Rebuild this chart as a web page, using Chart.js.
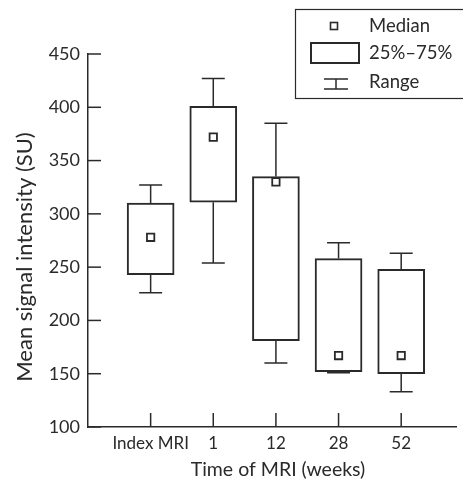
<!DOCTYPE html>
<html>
<head>
<meta charset="utf-8">
<script src="https://cdn.jsdelivr.net/npm/chart.js@4/dist/chart.umd.min.js"></script>
<style>
  body { margin: 0; background: #fff; }
</style>
</head>
<body>
<canvas id="myChart" width="463" height="480"></canvas>
<script>
"use strict";
// categories and box plot values
const categories = ["Index MRI", "1", "12", "28", "52"];
const minValues = [226, 254, 160, 151, 133];
const q1Values = [243, 311, 181, 152, 150];
const medianValues = [278, 372, 330, 167, 167];
const q3Values = [310, 401, 335, 258, 248];
const maxValues = [327, 427, 385, 273, 263];
const yTicks = [100, 150, 200, 250, 300, 350, 400, 450];

const ink = "#2a2a2a";
const font = { family: "Lato", size: 17 };

// whiskers: from box edge out to the cap
const whiskers = {
  id: "whiskers",
  beforeDatasetsDraw(chart) {
    const { ctx, scales: { x, y } } = chart;
    ctx.save();
    ctx.strokeStyle = ink;
    ctx.lineWidth = 1.5;
    categories.forEach((c, i) => {
      const px = x.getPixelForValue(i);
      [[q3Values[i], maxValues[i]], [q1Values[i], minValues[i]]].forEach(([from, to]) => {
        ctx.beginPath();
        ctx.moveTo(px, y.getPixelForValue(from));
        ctx.lineTo(px, y.getPixelForValue(to));
        ctx.moveTo(px - 11.5, y.getPixelForValue(to));
        ctx.lineTo(px + 11.5, y.getPixelForValue(to));
        ctx.stroke();
      });
    });
    ctx.restore();
  }
};

// inward tick marks, axis titles and the legend box with its own icons
const extras = {
  id: "extras",
  afterDraw(chart) {
    const { ctx, scales: { x, y }, chartArea } = chart;
    ctx.save();
    ctx.strokeStyle = ink;
    ctx.lineWidth = 1.5;
    yTicks.forEach(v => {
      const py = y.getPixelForValue(v);
      ctx.beginPath();
      ctx.moveTo(chartArea.left, py);
      ctx.lineTo(chartArea.left + 13, py);
      ctx.stroke();
    });
    categories.forEach((c, i) => {
      const px = x.getPixelForValue(i);
      ctx.beginPath();
      ctx.moveTo(px, chartArea.bottom);
      ctx.lineTo(px, chartArea.bottom - 14);
      ctx.stroke();
    });

    ctx.fillStyle = ink;
    ctx.textAlign = "center";
    ctx.textBaseline = "alphabetic";
    ctx.font = "19.5px Lato";
    ctx.fillText("Time of MRI (weeks)", 278, 476);
    ctx.save();
    ctx.translate(32, 257);
    ctx.rotate(-Math.PI / 2);
    ctx.font = "22px Lato";
    ctx.fillText("Mean signal intensity (SU)", 0, 0);
    ctx.restore();

    // legend
    ctx.lineWidth = 1.2;
    ctx.strokeRect(295.5, 9.5, 180, 89);
    ctx.fillStyle = "#fff";
    ctx.lineWidth = 1.6;
    ctx.fillRect(330.5, 22.5, 7, 7);
    ctx.strokeRect(330.5, 22.5, 7, 7);
    ctx.lineWidth = 2;
    ctx.strokeRect(311, 43, 48, 20);
    ctx.lineWidth = 1.5;
    ctx.beginPath();
    ctx.moveTo(336, 79); ctx.lineTo(336, 89);
    ctx.moveTo(324, 79); ctx.lineTo(348, 79);
    ctx.moveTo(324, 89); ctx.lineTo(348, 89);
    ctx.stroke();
    ctx.fillStyle = ink;
    ctx.font = "18.5px Lato";
    ctx.textAlign = "left";
    ctx.textBaseline = "middle";
    ctx.fillText("Median", 369, 26);
    ctx.fillText("25%\u201375%", 369, 53);
    ctx.fillText("Range", 369, 82);
    ctx.restore();
  }
};

new Chart(document.querySelector("#myChart"), {
  data: {
    datasets: [
      {
        type: "scatter",
        order: 1,
        data: medianValues.map((v, i) => ({ x: i, y: v })),
        pointStyle: "rect",
        pointRadius: 5.2,
        pointHoverRadius: 5.2,
        pointBorderWidth: 1.8,
        pointBorderColor: ink,
        pointBackgroundColor: "#fff"
      },
      {
        type: "bar",
        order: 2,
        data: categories.map((c, i) => ({ x: i, y: [q1Values[i], q3Values[i]] })),
        barThickness: 47,
        backgroundColor: "#fff",
        borderColor: ink,
        borderWidth: 2,
        borderSkipped: false
      }
    ]
  },
  options: {
    responsive: false,
    animation: false,
    layout: { padding: { top: 54, right: 0, left: 0, bottom: 0 } },
    plugins: { legend: { display: false }, tooltip: { enabled: false } },
    scales: {
      x: {
        type: "linear",
        offset: false,
        min: -1,
        max: 4.875,
        afterBuildTicks: s => { s.ticks = categories.map((c, i) => ({ value: i })); },
        afterFit: s => { s.height = 53; },
        grid: { display: false, drawTicks: false },
        border: { display: true, color: ink, width: 1.5 },
        ticks: {
          callback: v => categories[v],
          color: ink,
          font: font,
          padding: 6,
          maxRotation: 0,
          autoSkip: false
        }
      },
      y: {
        min: 100,
        max: 450,
        afterBuildTicks: s => { s.ticks = yTicks.map(v => ({ value: v })); },
        afterFit: s => { s.width = 88; },
        grid: { display: false, drawTicks: false },
        border: { display: true, color: ink, width: 1.5 },
        ticks: { color: ink, font: { family: "Lato", size: 18 }, padding: 8 }
      }
    }
  },
  plugins: [whiskers, extras]
});
</script>
</body>
</html>
